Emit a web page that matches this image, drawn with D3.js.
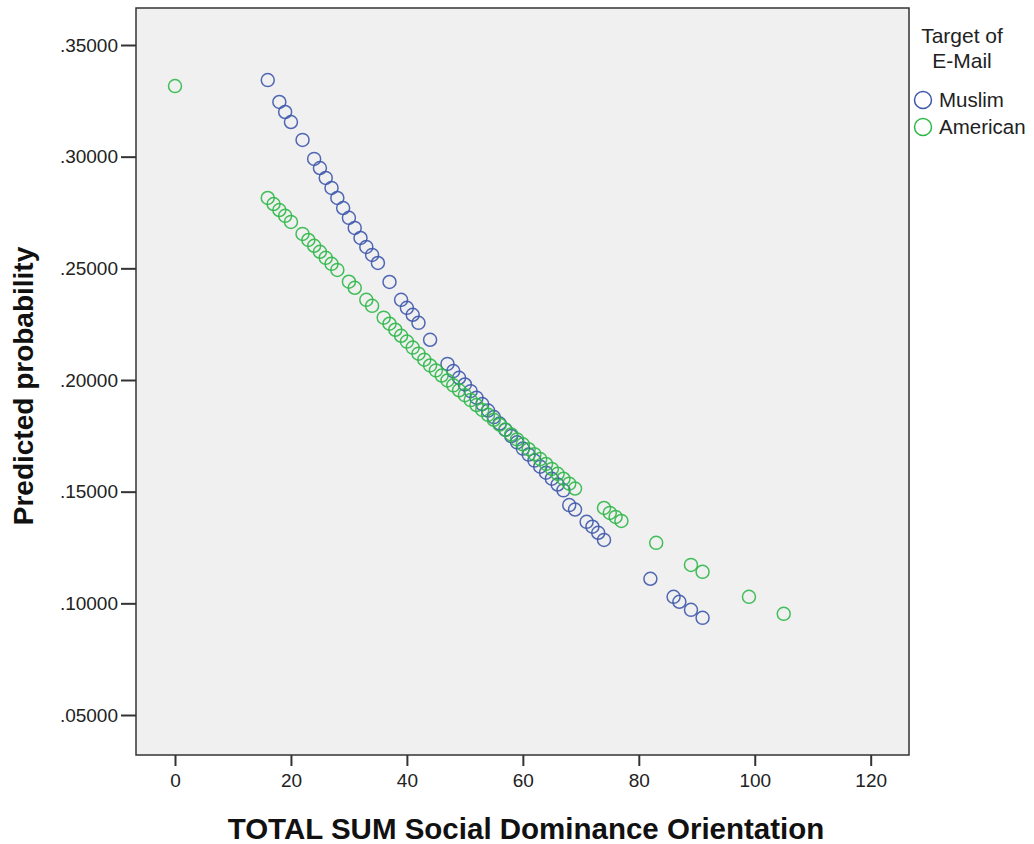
<!DOCTYPE html>
<html><head><meta charset="utf-8">
<script src="https://cdn.jsdelivr.net/npm/d3@7"></script>
<style>body{margin:0;background:#fff;} svg{display:block;font-family:"Liberation Sans",Arial,sans-serif;}</style>
</head><body>
<svg id="c" width="1034" height="844"></svg>
<script>
const muslimX = [16,18,19,20,22,24,25,26,27,28,29,30,31,32,33,34,35,37,39,40,41,42,44,47,48,49,50,51,52,53,54,55,56,57,58,59,60,61,62,63,64,65,66,67,68,69,71,72,73,74,82,86,87,89,91];
const muslimY = [.3343,.3245,.3200,.3155,.3075,.2990,.2949,.2905,.2860,.2815,.2770,.2726,.2681,.2636,.2596,.2560,.2524,.2439,.2359,.2323,.2292,.2256,.2180,.2072,.2040,.2010,.1980,.1950,.1921,.1892,.1863,.1834,.1805,.1777,.1749,.1721,.1693,.1666,.1639,.1612,.1585,.1558,.1532,.1506,.1440,.1420,.1365,.1343,.1316,.1284,.1110,.1029,.1007,.0971,.0935];
const americanX = [0,16,17,18,19,20,22,23,24,25,26,27,28,30,31,33,34,36,37,38,39,40,41,42,43,44,45,46,47,48,49,50,51,52,53,54,55,56,57,58,59,60,61,62,63,64,65,66,67,68,69,74,75,76,77,83,89,91,99,105];
const americanY = [.3316,.2815,.2788,.2761,.2735,.2708,.2654,.2627,.2601,.2574,.2547,.2520,.2493,.2440,.2413,.2359,.2332,.2279,.2252,.2225,.2198,.2172,.2145,.2118,.2091,.2065,.2043,.2020,.1998,.1976,.1954,.1932,.1910,.1888,.1866,.1844,.1822,.1800,.1778,.1756,.1734,.1712,.1690,.1668,.1646,.1624,.1602,.1580,.1558,.1536,.1514,.1427,.1405,.1387,.1369,.1271,.1172,.1141,.1029,.0953];
const xTicks = [0,20,40,60,80,100,120];
const yTicks = [.05,.10,.15,.20,.25,.30,.35];
const yTickLabels = [".05000",".10000",".15000",".20000",".25000",".30000",".35000"];
const seriesNames = ["Muslim","American"];
const seriesColors = ["#3e58ac","#2eb848"];

const svg = d3.select("#c");
const L=136,R=909,T=8,B=755;
const x = d3.scaleLinear().domain([0,120]).range([175,870.7]);
const y = d3.scaleLinear().domain([.05,.35]).range([715,45]);

svg.append("rect").attr("x",L).attr("y",T).attr("width",R-L).attr("height",B-T)
  .attr("fill","#f0f0f0").attr("stroke","#333").attr("stroke-width",1.5);

const xa = svg.append("g").attr("transform",`translate(0,${B})`)
  .call(d3.axisBottom(x).tickValues(xTicks).tickSize(11).tickPadding(8).tickFormat(d3.format("d")));
const ya = svg.append("g").attr("transform",`translate(${L},0)`)
  .call(d3.axisLeft(y).tickValues(yTicks).tickSize(15).tickPadding(3).tickFormat((d,i)=>yTickLabels[i]));
[xa,ya].forEach(a=>{
  a.select(".domain").remove();
  a.selectAll(".tick line").attr("stroke","#333").attr("stroke-width",2);
  a.selectAll(".tick text").attr("fill","#222").style("font-size","19px").style("font-family","'Liberation Sans',Arial,sans-serif");
});

const series = [ {xs:muslimX, ys:muslimY}, {xs:americanX, ys:americanY} ];
series.forEach((s,k)=>{
  svg.append("g").selectAll("circle").data(s.xs.map((v,i)=>[v,s.ys[i]])).join("circle")
    .attr("cx",d=>x(d[0])).attr("cy",d=>y(d[1])).attr("r",6.5)
    .attr("fill","none").attr("stroke",seriesColors[k]).attr("stroke-width",1.5).attr("stroke-opacity",0.9);
});

svg.append("text").attr("x",526).attr("y",839).attr("text-anchor","middle")
  .style("font-size","29.5px").style("font-weight","bold").attr("fill","#111")
  .text("TOTAL SUM Social Dominance Orientation");
svg.append("text").attr("transform","translate(33,386) rotate(-90)").attr("text-anchor","middle")
  .style("font-size","28px").style("font-weight","bold").attr("fill","#111")
  .text("Predicted probability");

const lg = svg.append("g");
lg.append("text").attr("x",962).attr("y",43).attr("text-anchor","middle").style("font-size","21px").attr("fill","#222").text("Target of");
lg.append("text").attr("x",962).attr("y",68).attr("text-anchor","middle").style("font-size","21px").attr("fill","#222").text("E-Mail");
seriesNames.forEach((n,i)=>{
  lg.append("circle").attr("cx",923).attr("cy",100+i*27).attr("r",8.5).attr("fill","none")
    .attr("stroke",seriesColors[i]).attr("stroke-width",1.5);
  lg.append("text").attr("x",939).attr("y",107+i*27).style("font-size","20.5px").attr("fill","#222").text(n);
});
</script>
</body></html>
